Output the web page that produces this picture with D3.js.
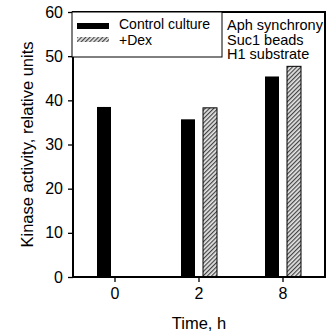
<!DOCTYPE html>
<html>
<head>
<meta charset="utf-8">
<script src="https://cdn.jsdelivr.net/npm/d3@7/dist/d3.min.js"></script>
<style>
  body { margin: 0; background: #fff; }
  text { font-family: Arial, "Liberation Sans", sans-serif; fill: #000; }
</style>
</head>
<body>
<div id="chart"></div>
<script>
const times = ['0', '2', '8'];
const series = ['Control culture', '+Dex'];
const control = [38.5, 35.7, 45.4];
const dex = [null, 38.3, 47.7];
const yTicks = [0, 10, 20, 30, 40, 50, 60];
const notes = ['Aph synchrony', 'Suc1 beads', 'H1 substrate'];

const W = 330, H = 335;
const margin = { top: 12, right: 5, bottom: 58, left: 73 };
const width = W - margin.left - margin.right;
const height = H - margin.top - margin.bottom;

const svg = d3.select('#chart').append('svg')
  .attr('width', W)
  .attr('height', H);

// hatch for +Dex
const defs = svg.append('defs');
const pat = defs.append('pattern')
  .attr('id', 'hatch')
  .attr('patternUnits', 'userSpaceOnUse')
  .attr('width', 3)
  .attr('height', 3)
  .attr('patternTransform', 'rotate(45)');
pat.append('rect').attr('width', 3).attr('height', 3).attr('fill', '#e6e6e6');
pat.append('line')
  .attr('x1', 0.6).attr('y1', 0)
  .attr('x2', 0.6).attr('y2', 3)
  .attr('stroke', '#444')
  .attr('stroke-width', 1.2);

const g = svg.append('g')
  .attr('transform', `translate(${margin.left},${margin.top})`);

const x = d3.scaleBand().domain(times).range([0, width]).padding(0);
const xSub = d3.scaleBand().domain(series).range([-18, 18]).paddingInner(0.364);
const y = d3.scaleLinear().domain([0, 60]).range([height, 0]);

// bars
const rows = times.map((t, i) => ({ t, vals: [control[i], dex[i]] }));
const groups = g.selectAll('.grp').data(rows).join('g')
  .attr('class', 'grp')
  .attr('transform', d => `translate(${x(d.t) + x.bandwidth() / 2},0)`);

groups.selectAll('rect')
  .data(d => d.vals.map((v, k) => ({ s: series[k], v, k })).filter(e => e.v != null))
  .join('rect')
  .attr('x', d => xSub(d.s))
  .attr('width', xSub.bandwidth())
  .attr('y', d => y(d.v))
  .attr('height', d => height - y(d.v))
  .attr('fill', d => d.k === 0 ? '#000' : 'url(#hatch)')
  .attr('stroke', '#000')
  .attr('stroke-width', d => d.k === 0 ? 0 : 1);

// frame
g.append('rect')
  .attr('width', width)
  .attr('height', height)
  .attr('fill', 'none')
  .attr('stroke', '#000')
  .attr('stroke-width', 2);

// axes
const yAxis = g.append('g')
  .call(d3.axisLeft(y).tickValues(yTicks).tickSize(5).tickPadding(5));
yAxis.select('.domain').remove();
yAxis.selectAll('line').attr('stroke-width', 1.3);
yAxis.selectAll('text').style('font-size', '16px');

const xAxis = g.append('g')
  .attr('transform', `translate(0,${height})`)
  .call(d3.axisBottom(x).tickSize(5).tickPadding(6));
xAxis.select('.domain').remove();
xAxis.selectAll('line').attr('stroke-width', 1.3);
xAxis.selectAll('text').style('font-size', '16px');

// axis titles
svg.append('text')
  .attr('transform', `translate(33,${margin.top + height / 2}) rotate(-90)`)
  .attr('text-anchor', 'middle')
  .style('font-size', '16.5px')
  .text('Kinase activity, relative units');

svg.append('text')
  .attr('x', margin.left + width / 2)
  .attr('y', 329)
  .attr('text-anchor', 'middle')
  .style('font-size', '16.5px')
  .text('Time, h');

// legend
const leg = g.append('g').attr('transform', 'translate(-1,0)');
leg.append('rect')
  .attr('width', 150)
  .attr('height', 45)
  .attr('fill', '#fff')
  .attr('stroke', '#000')
  .attr('stroke-width', 1);

series.forEach((s, i) => {
  leg.append('rect')
    .attr('x', 5)
    .attr('y', 11 + i * 14)
    .attr('width', 32)
    .attr('height', i === 0 ? 6 : 5)
    .attr('fill', i === 0 ? '#000' : 'url(#hatch)');
  leg.append('text')
    .attr('x', 47)
    .attr('y', 17 + i * 15.5)
    .style('font-size', '14px')
    .text(s);
});

// notes
notes.forEach((n, i) => {
  g.append('text')
    .attr('x', 154)
    .attr('y', 18 + i * 14.5)
    .style('font-size', '14.5px')
    .text(n);
});
</script>
</body>
</html>
